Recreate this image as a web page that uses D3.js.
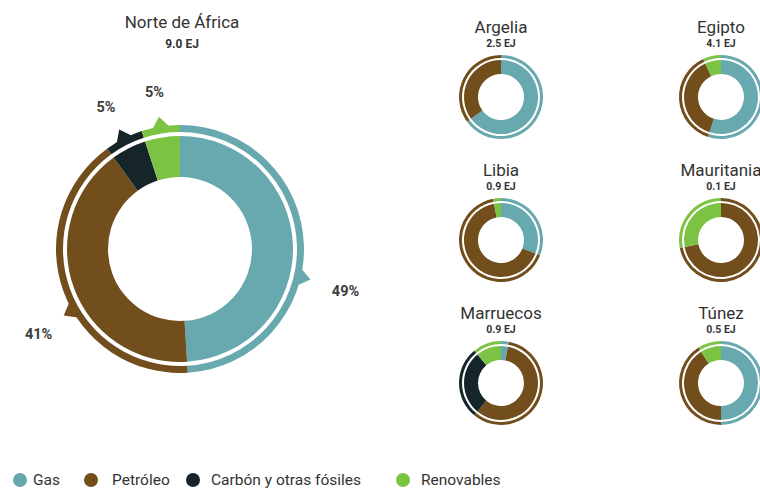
<!DOCTYPE html>
<html><head><meta charset="utf-8">
<script src="https://cdn.jsdelivr.net/npm/d3@7"></script>
<style>body{margin:0;background:#fff} text{font-family:Roboto,'Open Sans',sans-serif}</style>
</head><body><svg id="c" width="760" height="488"></svg>
<script>
// ---- data ----
const energyTypes = ["Gas", "Petróleo", "Carbón y otras fósiles", "Renovables"];
const typeColors = ["#68a9b0", "#734e1d", "#16252a", "#7cc344"];
const regionName = "Norte de África";
const regionTotal = "9.0 EJ";
const regionShares = [49, 41, 5, 5];
const regionLabels = ["49%", "41%", "5%", "5%"];
const countries = ["Argelia", "Egipto", "Libia", "Mauritania", "Marruecos", "Túnez"];
const countryTotals = ["2.5 EJ", "4.1 EJ", "0.9 EJ", "0.1 EJ", "0.9 EJ", "0.5 EJ"];
const gasShares   = [65, 55, 31, 0, 3, 50];
const oilShares   = [35, 38, 66, 72, 58, 41];
const coalShares  = [0, 0, 0, 0, 28, 0];
const renewShares = [0, 7, 3, 28, 11, 9];

// ---- layout ----
const svg = d3.select("#c");
const pie = d3.pie().sort(null).value(d => d);
const deg = Math.PI / 180;

function donut(g, values, r) {
  const arcs = pie(values);
  const thick = d3.arc().innerRadius(r.in).outerRadius(r.thickOut);
  const thin = d3.arc().innerRadius(r.thinIn).outerRadius(r.out);
  g.selectAll("path.thick").data(arcs).join("path").attr("class", "thick")
    .attr("d", thick).attr("fill", (d, i) => typeColors[i]);
  g.selectAll("path.thin").data(arcs).join("path").attr("class", "thin")
    .attr("d", thin).attr("fill", (d, i) => typeColors[i]);
  return arcs;
}

// main donut
const main = { cx: 180, cy: 249 };
const mainR = { in: 72, thickOut: 113, thinIn: 117, out: 124 };
svg.append("text").attr("x", main.cx + 2).attr("y", 28).attr("text-anchor", "middle")
  .attr("font-size", 17).attr("fill", "#333").text(regionName);
svg.append("text").attr("x", main.cx + 2).attr("y", 48).attr("text-anchor", "middle")
  .attr("font-size", 12).attr("font-weight", 700).attr("fill", "#333").text(regionTotal);
const gm = svg.append("g").attr("transform", `translate(${main.cx},${main.cy})`);
const mainArcs = donut(gm, regionShares, mainR);
// callout angle shifts (layout only, degrees)
const calloutShift = [15, -10, 0, 0];
mainArcs.forEach((a, i) => {
  const ang = (a.startAngle + a.endAngle) / 2 + calloutShift[i] * deg;
  const pt = (rad, off) => [Math.sin(ang + off) * rad, -Math.cos(ang + off) * rad];
  const half = 4 * deg;
  const p1 = pt(mainR.out - 1, -half), p2 = pt(mainR.out + 10, 0), p3 = pt(mainR.out - 1, half);
  gm.append("path").attr("d", `M${p1}L${p2}L${p3}Z`).attr("fill", typeColors[i]);
  const lp = pt(i === 0 ? 170 : 163, 0);
  gm.append("text").attr("x", lp[0]).attr("y", lp[1] + 4).attr("text-anchor", "middle")
    .attr("dominant-baseline", "central").attr("font-size", 14.5).attr("font-weight", 700)
    .attr("fill", "#3d3d3d").text(regionLabels[i]);
});

// small donuts
const smallR = { in: 23, thickOut: 37, thinIn: 39, out: 42 };
const colX = [501, 721];
const rowY = [97, 240, 383];
countries.forEach((name, i) => {
  const cx = colX[i % 2], cy = rowY[Math.floor(i / 2)];
  svg.append("text").attr("x", cx).attr("y", cy - 64).attr("text-anchor", "middle")
    .attr("font-size", 17).attr("fill", "#333").text(name);
  svg.append("text").attr("x", cx).attr("y", cy - 50).attr("text-anchor", "middle")
    .attr("font-size", 10.5).attr("font-weight", 700).attr("fill", "#333").text(countryTotals[i]);
  const g = svg.append("g").attr("transform", `translate(${cx},${cy})`);
  donut(g, [gasShares[i], oilShares[i], coalShares[i], renewShares[i]], smallR);
});

// legend
const legendX = [20, 91, 193, 403];
const legendTextGap = [13, 21, 18, 18];
energyTypes.forEach((t, i) => {
  svg.append("circle").attr("cx", legendX[i]).attr("cy", 480).attr("r", 7).attr("fill", typeColors[i]);
  svg.append("text").attr("x", legendX[i] + legendTextGap[i]).attr("y", 485)
    .attr("font-size", 15.5).attr("fill", "#333").text(t);
});
</script></body></html>
